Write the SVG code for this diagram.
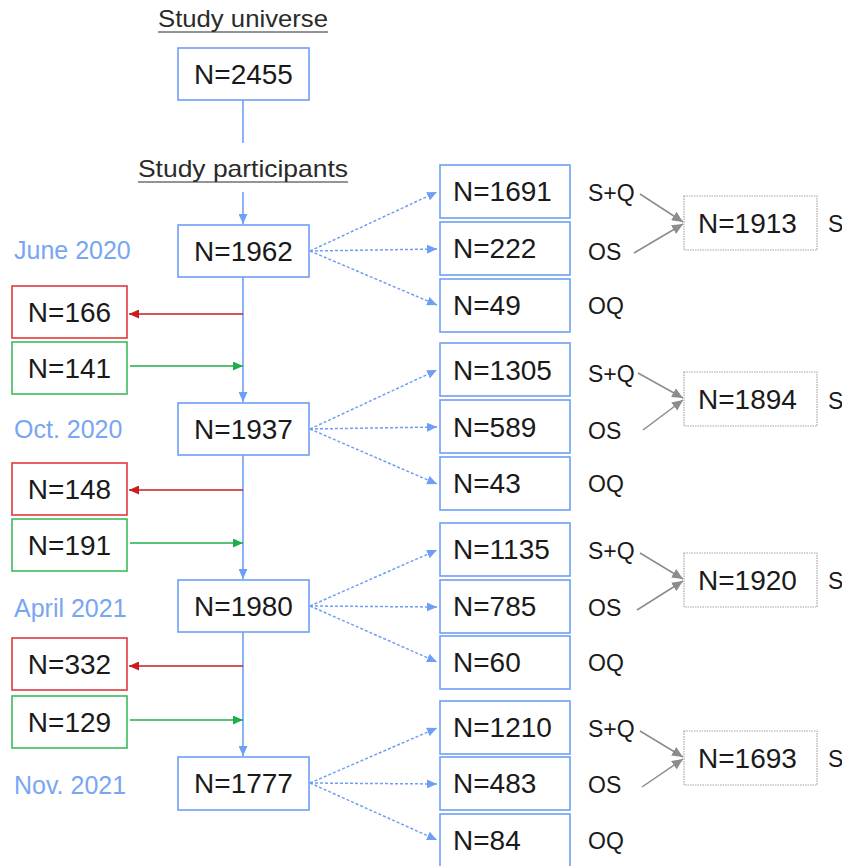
<svg xmlns="http://www.w3.org/2000/svg" width="842" height="866" viewBox="0 0 842 866">
<defs>
<style>
text{font-family:"Liberation Sans",Arial,sans-serif;fill:#1a1a1a}
.num{font-size:28px}
.mid{text-anchor:middle}
.lab{font-size:23px}
.date{font-size:25px;fill:#78a6f2}
.title{font-size:24px;fill:#2a2a2a}
.mbox{fill:#fff;stroke:#6f9ff5;stroke-width:1.6}
.rbox{fill:#fff;stroke:#e0393e;stroke-width:1.6}
.gbox{fill:#fff;stroke:#3cbb5c;stroke-width:1.6}
.sbox{fill:#fff;stroke:#a8a8a8;stroke-width:1.2;stroke-dasharray:1.5 1}
.vl{stroke:#6f9ff5;stroke-width:1.6;fill:none}
.dl{stroke:#6f9ff5;stroke-width:1.5;stroke-dasharray:3 2;fill:none}
.rl{stroke:#c81e1e;stroke-width:1.6;fill:none}
.gl{stroke:#1fae4b;stroke-width:1.6;fill:none}
.gy{stroke:#8c8c8c;stroke-width:1.5;fill:none}
.ul{stroke:#2a2a2a;stroke-width:1.2}
</style>
<marker id="ab" markerWidth="10" markerHeight="9" refX="10" refY="4.5" orient="auto" markerUnits="userSpaceOnUse"><path d="M0,0 L10,4.5 L0,9 z" fill="#6f9ff5"/></marker>
<marker id="ar" markerWidth="10" markerHeight="9" refX="10" refY="4.5" orient="auto" markerUnits="userSpaceOnUse"><path d="M0,0 L10,4.5 L0,9 z" fill="#c81e1e"/></marker>
<marker id="ag" markerWidth="10" markerHeight="9" refX="10" refY="4.5" orient="auto" markerUnits="userSpaceOnUse"><path d="M0,0 L10,4.5 L0,9 z" fill="#1fae4b"/></marker>
<marker id="ay" markerWidth="11" markerHeight="10" refX="11" refY="5" orient="auto" markerUnits="userSpaceOnUse"><path d="M0,0 L11,5 L0,10 z" fill="#8c8c8c"/></marker>
</defs>
<rect width="842" height="866" fill="#fff"/>

<g id="titles">
<text class="title mid" x="243" y="27" textLength="170" lengthAdjust="spacingAndGlyphs">Study universe</text>
<line class="ul" x1="158" y1="32" x2="328" y2="32"/>
<text class="title mid" x="243" y="177" textLength="210" lengthAdjust="spacingAndGlyphs">Study participants</text>
<line class="ul" x1="138" y1="182" x2="348" y2="182"/>
</g>

<g id="dates">
<text class="date" x="14" y="259">June 2020</text>
<text class="date" x="14" y="438">Oct. 2020</text>
<text class="date" x="14" y="617">April 2021</text>
<text class="date" x="14" y="794">Nov. 2021</text>
</g>

<g id="connectors">
<line class="vl" x1="243" y1="100" x2="243" y2="143"/>
<line class="vl" x1="243" y1="192" x2="243" y2="224" marker-end="url(#ab)"/>
<line class="vl" x1="243" y1="277" x2="243" y2="402" marker-end="url(#ab)"/>
<line class="vl" x1="243" y1="455" x2="243" y2="579" marker-end="url(#ab)"/>
<line class="vl" x1="243" y1="632" x2="243" y2="756" marker-end="url(#ab)"/>

<line class="rl" x1="243" y1="314" x2="129" y2="314" marker-end="url(#ar)"/>
<line class="gl" x1="130" y1="366" x2="243" y2="366" marker-end="url(#ag)"/>
<line class="rl" x1="243" y1="490" x2="129" y2="490" marker-end="url(#ar)"/>
<line class="gl" x1="130" y1="543" x2="243" y2="543" marker-end="url(#ag)"/>
<line class="rl" x1="243" y1="666" x2="129" y2="666" marker-end="url(#ar)"/>
<line class="gl" x1="130" y1="720" x2="243" y2="720" marker-end="url(#ag)"/>

<line class="dl" x1="310" y1="251" x2="437" y2="192" marker-end="url(#ab)"/>
<line class="dl" x1="310" y1="251" x2="437" y2="249" marker-end="url(#ab)"/>
<line class="dl" x1="310" y1="251" x2="437" y2="305" marker-end="url(#ab)"/>
<line class="dl" x1="310" y1="429" x2="437" y2="370" marker-end="url(#ab)"/>
<line class="dl" x1="310" y1="429" x2="437" y2="427" marker-end="url(#ab)"/>
<line class="dl" x1="310" y1="429" x2="437" y2="484" marker-end="url(#ab)"/>
<line class="dl" x1="310" y1="606" x2="437" y2="550" marker-end="url(#ab)"/>
<line class="dl" x1="310" y1="606" x2="437" y2="607" marker-end="url(#ab)"/>
<line class="dl" x1="310" y1="606" x2="437" y2="662" marker-end="url(#ab)"/>
<line class="dl" x1="310" y1="783" x2="437" y2="728" marker-end="url(#ab)"/>
<line class="dl" x1="310" y1="783" x2="437" y2="784" marker-end="url(#ab)"/>
<line class="dl" x1="310" y1="783" x2="437" y2="840" marker-end="url(#ab)"/>

<line class="gy" x1="640" y1="194" x2="683" y2="222" marker-end="url(#ay)"/>
<line class="gy" x1="634" y1="253" x2="683" y2="224" marker-end="url(#ay)"/>
<line class="gy" x1="638" y1="373" x2="683" y2="398" marker-end="url(#ay)"/>
<line class="gy" x1="643" y1="430" x2="683" y2="400" marker-end="url(#ay)"/>
<line class="gy" x1="640" y1="553" x2="683" y2="579" marker-end="url(#ay)"/>
<line class="gy" x1="637" y1="610" x2="683" y2="581" marker-end="url(#ay)"/>
<line class="gy" x1="640" y1="731" x2="683" y2="757" marker-end="url(#ay)"/>
<line class="gy" x1="642" y1="787" x2="683" y2="759" marker-end="url(#ay)"/>
</g>

<g id="n2455"><rect class="mbox" x="178" y="48" width="131" height="52"/><text class="num mid" x="243.5" y="84">N=2455</text></g>
<g id="n1962"><rect class="mbox" x="178" y="225" width="131" height="52"/><text class="num mid" x="243.5" y="261">N=1962</text></g>
<g id="n1937"><rect class="mbox" x="178" y="403" width="131" height="52"/><text class="num mid" x="243.5" y="439">N=1937</text></g>
<g id="n1980"><rect class="mbox" x="178" y="580" width="131" height="52"/><text class="num mid" x="243.5" y="616">N=1980</text></g>
<g id="n1777"><rect class="mbox" x="178" y="757" width="131" height="53"/><text class="num mid" x="243.5" y="793">N=1777</text></g>

<g id="n166"><rect class="rbox" x="12" y="286" width="115" height="52"/><text class="num mid" x="69.5" y="322">N=166</text></g>
<g id="n141"><rect class="gbox" x="12" y="342" width="115" height="52"/><text class="num mid" x="69.5" y="378">N=141</text></g>
<g id="n148"><rect class="rbox" x="12" y="463" width="115" height="52"/><text class="num mid" x="69.5" y="499">N=148</text></g>
<g id="n191"><rect class="gbox" x="12" y="519" width="115" height="52"/><text class="num mid" x="69.5" y="555">N=191</text></g>
<g id="n332"><rect class="rbox" x="12" y="638" width="115" height="52"/><text class="num mid" x="69.5" y="674">N=332</text></g>
<g id="n129"><rect class="gbox" x="12" y="696" width="115" height="52"/><text class="num mid" x="69.5" y="732">N=129</text></g>

<g id="n1691"><rect class="mbox" x="440" y="165" width="130" height="53"/><text class="num" x="453" y="201">N=1691</text><text class="lab" x="588" y="201">S+Q</text></g>
<g id="n222"><rect class="mbox" x="440" y="222" width="130" height="53"/><text class="num" x="453" y="258">N=222</text><text class="lab" x="588" y="260">OS</text></g>
<g id="n49"><rect class="mbox" x="440" y="279" width="130" height="53"/><text class="num" x="453" y="315">N=49</text><text class="lab" x="588" y="314">OQ</text></g>
<g id="n1913"><rect class="sbox" x="684" y="196" width="133" height="54"/><text class="num" x="698" y="233">N=1913</text><text class="lab" x="828" y="232">S</text></g>

<g id="n1305"><rect class="mbox" x="440" y="343" width="130" height="53"/><text class="num" x="453" y="380">N=1305</text><text class="lab" x="588" y="382">S+Q</text></g>
<g id="n589"><rect class="mbox" x="440" y="400" width="130" height="53"/><text class="num" x="453" y="437">N=589</text><text class="lab" x="588" y="439">OS</text></g>
<g id="n43"><rect class="mbox" x="440" y="457" width="130" height="53"/><text class="num" x="453" y="493">N=43</text><text class="lab" x="588" y="492">OQ</text></g>
<g id="n1894"><rect class="sbox" x="684" y="372" width="133" height="54"/><text class="num" x="698" y="409">N=1894</text><text class="lab" x="828" y="409">S</text></g>

<g id="n1135"><rect class="mbox" x="440" y="523" width="130" height="53"/><text class="num" x="453" y="559">N=1135</text><text class="lab" x="588" y="559">S+Q</text></g>
<g id="n785"><rect class="mbox" x="440" y="580" width="130" height="53"/><text class="num" x="453" y="616">N=785</text><text class="lab" x="588" y="616">OS</text></g>
<g id="n60"><rect class="mbox" x="440" y="636" width="130" height="53"/><text class="num" x="453" y="672">N=60</text><text class="lab" x="588" y="671">OQ</text></g>
<g id="n1920"><rect class="sbox" x="684" y="553" width="133" height="54"/><text class="num" x="698" y="590">N=1920</text><text class="lab" x="828" y="589">S</text></g>

<g id="n1210"><rect class="mbox" x="440" y="701" width="130" height="53"/><text class="num" x="453" y="737">N=1210</text><text class="lab" x="588" y="737">S+Q</text></g>
<g id="n483"><rect class="mbox" x="440" y="757" width="130" height="53"/><text class="num" x="453" y="793">N=483</text><text class="lab" x="588" y="793">OS</text></g>
<g id="n84"><rect class="mbox" x="440" y="814" width="130" height="53"/><text class="num" x="453" y="850">N=84</text><text class="lab" x="588" y="849">OQ</text></g>
<g id="n1693"><rect class="sbox" x="684" y="731" width="133" height="54"/><text class="num" x="698" y="768">N=1693</text><text class="lab" x="828" y="767">S</text></g>
</svg>
